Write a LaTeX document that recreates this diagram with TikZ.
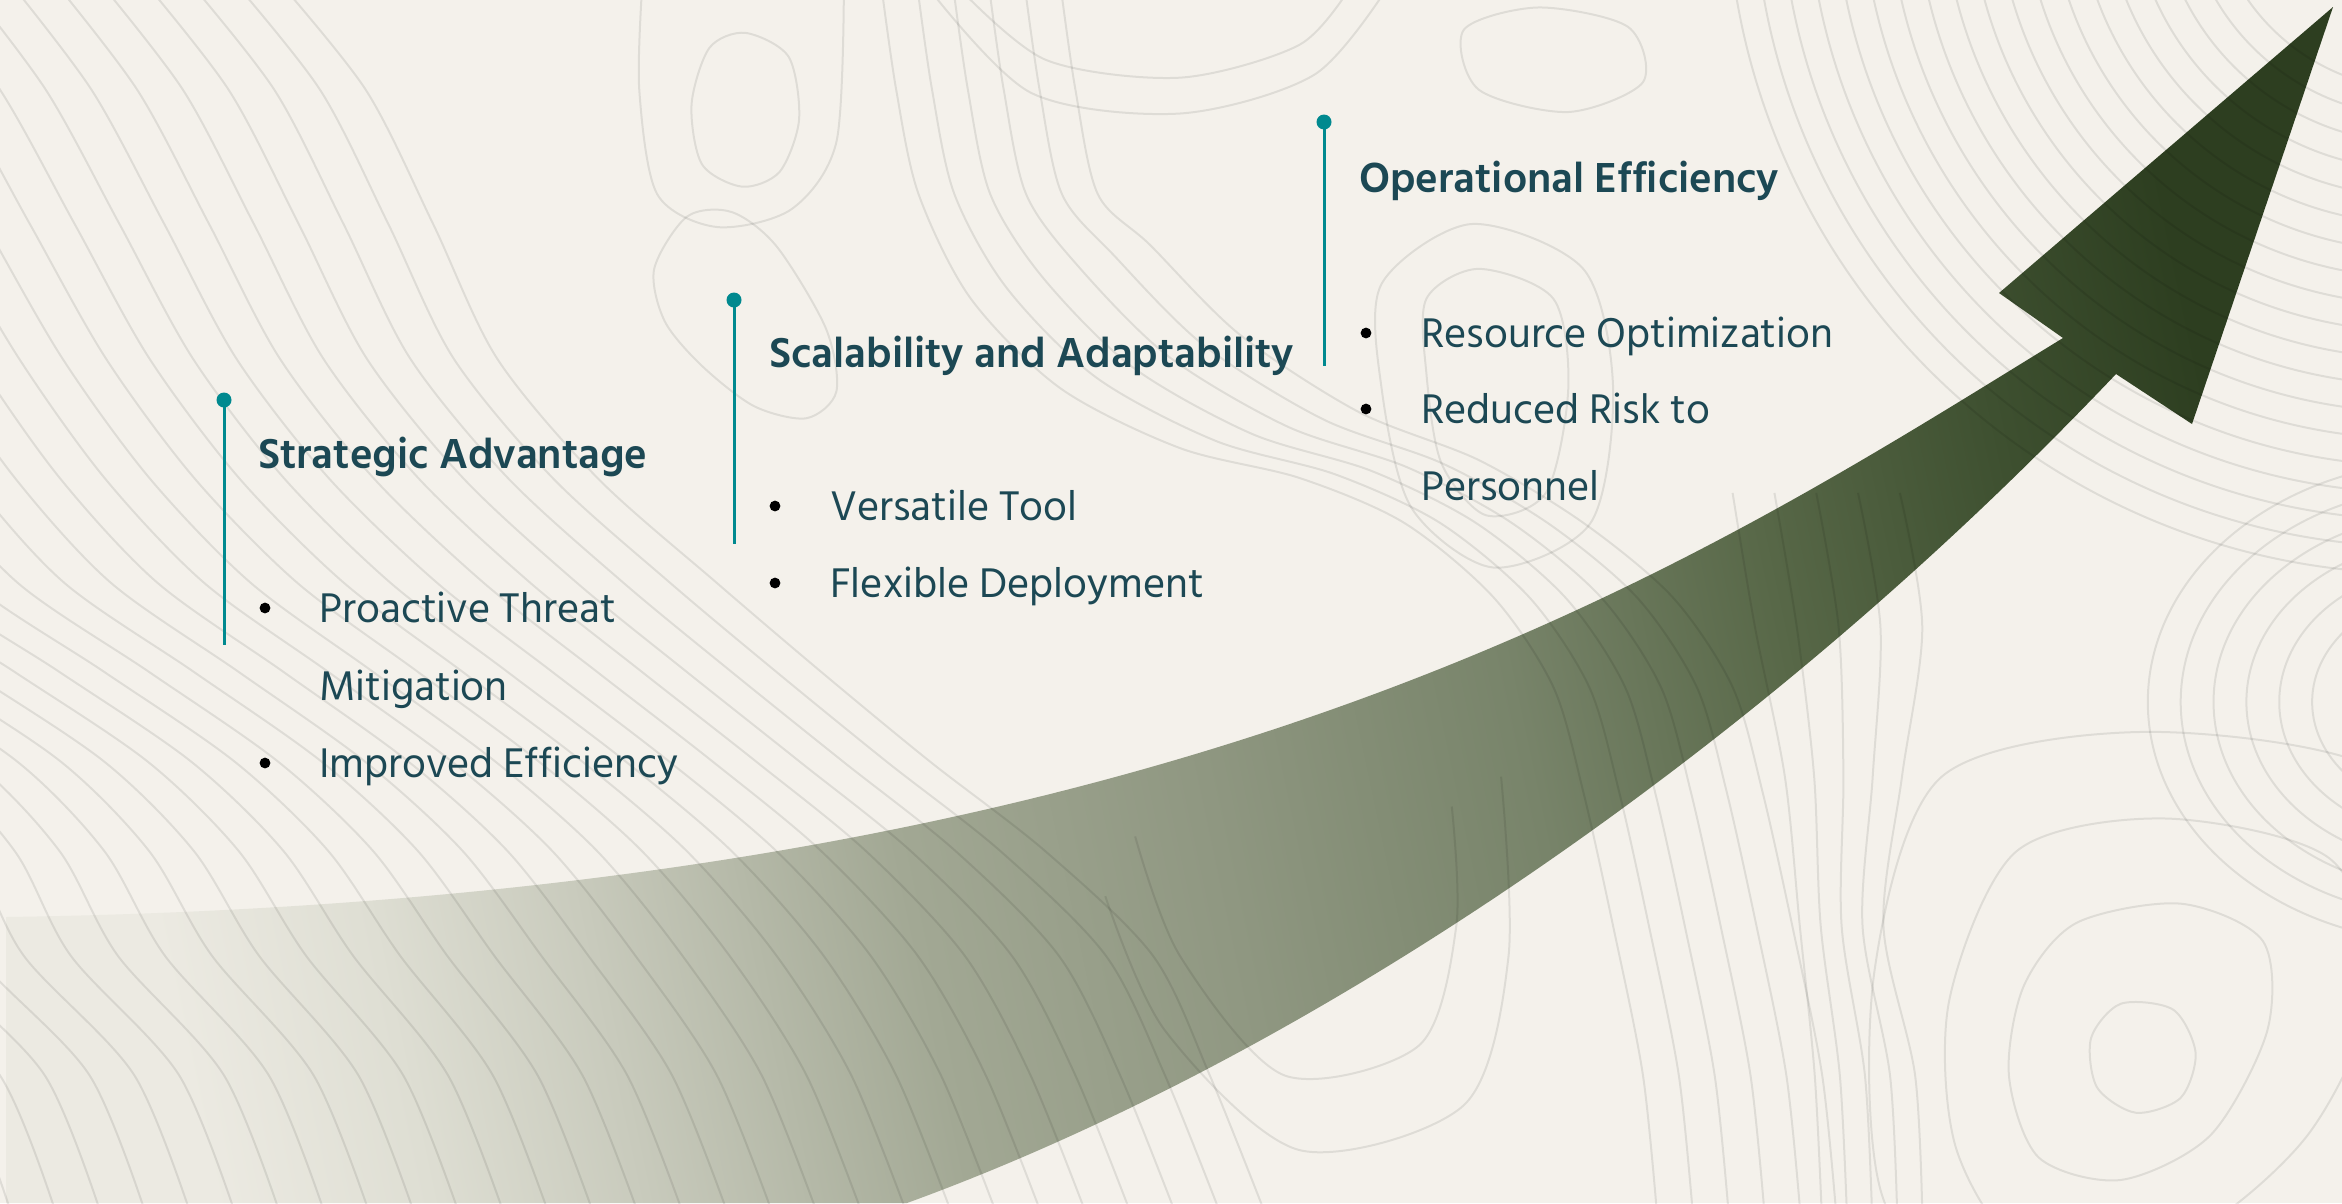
\documentclass[tikz,border=0pt]{standalone}
\usepackage{fontspec}
\setmainfont{Hind Siliguri}
\definecolor{paper}{HTML}{F4F1EB}
\definecolor{ink}{HTML}{1C4854}
\definecolor{tealacc}{HTML}{00898F}
\definecolor{g0}{RGB}{236,234,226}
\definecolor{g1}{RGB}{222,222,211}
\definecolor{g2}{RGB}{200,202,188}
\definecolor{g3}{RGB}{162,168,148}
\definecolor{g4}{RGB}{143,151,129}
\definecolor{g5}{RGB}{120,132,106}
\definecolor{g6}{RGB}{88,104,72}
\definecolor{g7}{RGB}{62,80,48}
\definecolor{g8}{RGB}{45,62,32}
\pgfdeclarehorizontalshading{arrowshade}{100bp}{color(0bp)=(g0); color(25bp)=(g0); color(30bp)=(g1); color(35bp)=(g2); color(42.5bp)=(g3); color(50bp)=(g4); color(57.5bp)=(g5); color(64bp)=(g6); color(70bp)=(g7); color(75bp)=(g8); color(100bp)=(g8)}
\begin{document}
\begin{tikzpicture}[x=1pt,y=-1pt,
  contour/.style={draw=black, draw opacity=0.085, line width=2pt},
  head/.style={anchor=base west, inner sep=0pt, text=ink, font=\fontsize{43}{50}\selectfont\bfseries},
  item/.style={anchor=base west, inner sep=0pt, text=ink, font=\fontsize{42.5}{50}\selectfont},
  pin/.style={circle, fill=tealacc, inner sep=0pt, minimum size=15pt},
  stem/.style={draw=tealacc, line width=3pt},
  dotb/.style={fill=black}]
% paper
\fill[paper] (0,0) rectangle (2342,1203);
\useasboundingbox (0,0) rectangle (2342,1203);

% rising arrow
\coordinate (tail top) at (6,917);
\coordinate (tail bottom) at (6,1203);
\coordinate (shaft bottom) at (907,1203);
\coordinate (barb left in) at (2063,338);
\coordinate (barb left out) at (1999,293);
\coordinate (tip) at (2333,7);
\coordinate (barb right out) at (2192,424);
\coordinate (barb right in) at (2116,374);
\shade[shading=arrowshade, shading angle=12]
  (tail bottom) -- (tail top)
  .. controls (1200,900) and (1700,560) .. (barb left in)
  -- (barb left out) -- (tip) -- (barb right out) -- (barb right in)
  .. controls (1750,760) and (1300,1060) .. (shaft bottom)
  -- cycle;

% topographic contour lines
\begin{scope}
\clip (0,0) rectangle (2342,1203);
\begin{scope}[scale=1.4936]
  % diagonal family on the left
  \foreach \s in {-600,-570,...,240}{
    \draw[contour] plot[smooth] coordinates {({-60+\s},-20) ({0+\s+0.02*\s},60) ({50+\s},150) ({100+\s-0.03*\s},240) ({160+\s},320) ({230+\s+0.04*\s},390) ({310+\s},450) ({390+\s-0.03*\s},510) ({460+\s},570) ({520+\s+0.05*\s},640) ({570+\s},720) ({610+\s},820)};
  }
  % flowing family through the centre
  \foreach \s in {0,24,...,120}{
    \draw[contour] plot[smooth] coordinates {({590+\s},-10) ({600+\s},60) ({615+\s},130) ({650+\s},{200-0.3*\s}) ({710+\s},{260-0.3*\s}) ({790+\s},{300-0.2*\s}) ({870+\s},{320-0.1*\s}) ({940+\s},350) ({1000+\s},400) ({1040+\s},460) ({1060+\s},530) ({1080+\s},620) ({1100+\s},720) ({1110+\s},820)};
  }
  % loops near the top centre
  \draw[contour] plot[smooth cycle] coordinates {(499,22) (528,38) (535,80) (522,115) (497,125) (470,110) (463,70) (475,32)};
  \draw[contour] plot[smooth cycle] coordinates {(438,180) (460,145) (490,142) (520,165) (553,220) (560,262) (540,280) (505,272) (470,245) (445,215)};
  \draw[contour] plot[smooth] coordinates {(430,-10) (428,60) (440,130) (480,152) (530,140) (560,95) (565,-10)};
  \draw[contour] plot[smooth] coordinates {(640,-10) (700,40) (790,52) (870,30) (905,-10)};
  \draw[contour] plot[smooth] coordinates {(620,-10) (690,62) (790,76) (880,50) (930,-10)};
  \draw[contour] plot[smooth cycle] coordinates {(980,20) (1030,5) (1090,18) (1100,55) (1050,75) (990,60)};
  \draw[contour] plot[smooth cycle] coordinates {(955,200) (990,180) (1040,200) (1050,260) (1035,330) (995,345) (965,310) (955,250)};
  \draw[contour] plot[smooth cycle] coordinates {(925,190) (985,150) (1060,180) (1080,260) (1065,350) (1000,380) (945,340) (925,260)};
  % arcs in the upper right
  \foreach \r in {140,158,...,480}{
    \draw[contour] (1620,-80) circle [radius=\r];
  }
  % loops right of the arrow tip
  \foreach \r in {70,92,...,210}{
    \draw[contour] (1640,470) ellipse [x radius=\r, y radius={0.8*\r}];
  }
  % nested loops in the lower right
  \draw[contour] plot[smooth cycle] coordinates {(1420,672) (1455,676) (1470,705) (1460,735) (1430,745) (1404,728) (1400,695)};
  \draw[contour] plot[smooth cycle] coordinates {(1390,618) (1460,605) (1515,630) (1518,690) (1480,760) (1420,790) (1365,775) (1345,720) (1355,660)};
  \draw[contour] plot[smooth cycle] coordinates {(1350,570) (1450,548) (1560,575) (1590,660) (1545,760) (1460,830) (1360,840) (1310,770) (1305,670)};
  \draw[contour] plot[smooth cycle] coordinates {(1300,520) (1440,490) (1600,520) (1640,640) (1590,790) (1470,880) (1330,885) (1260,800) (1255,650)};
  % near-vertical lines between the arrow and the loops
  \foreach \s in {0,28,...,112}{
    \draw[contour] plot[smooth] coordinates {({1160+\s},330) ({1175+\s},420) ({1195+0.7*\s},520) ({1205+0.5*\s},620) ({1215+0.6*\s},720) ({1220+0.6*\s},820)};
  }
  % loops under the right part of the arrow
  \draw[contour] plot[smooth] coordinates {(760,560) (790,640) (860,720) (950,700) (975,620) (972,540)};
  \draw[contour] plot[smooth] coordinates {(740,600) (780,690) (870,770) (980,740) (1010,640) (1005,520)};
\end{scope}
\end{scope}

% milestone pins
\node[pin] (p1) at (224,400) {};
\coordinate (e1) at (224,645);
\draw[stem] (p1.center) -- (e1);
\node[pin] (p2) at (734,300) {};
\coordinate (e2) at (734,544);
\draw[stem] (p2.center) -- (e2);
\node[pin] (p3) at (1324,122) {};
\coordinate (e3) at (1324,366);
\draw[stem] (p3.center) -- (e3);

% bullets
\fill[dotb] (265,608) circle[radius=5.4];
\fill[dotb] (265,763) circle[radius=5.4];
\fill[dotb] (775,506) circle[radius=5.4];
\fill[dotb] (775,583) circle[radius=5.4];
\fill[dotb] (1366,333) circle[radius=5.4];
\fill[dotb] (1366,409) circle[radius=5.4];

% texts
\node[head] (h1) at (258,468) {Strategic Advantage};
\node[item] (t11) at (319,622) {Proactive Threat};
\node[item] (t12) at (319,700) {Mitigation};
\node[item] (t13) at (319,777) {Improved Efficiency};

\node[head] (h2) at (769,367) {Scalability and Adaptability};
\node[item] (t21) at (830,520) {Versatile Tool};
\node[item] (t22) at (830,597) {Flexible Deployment};

\node[head] (h3) at (1359,192) {Operational Efficiency};
\node[item] (t31) at (1421,347) {Resource Optimization};
\node[item] (t32) at (1421,423) {Reduced Risk to};
\node[item] (t33) at (1421,500) {Personnel};
\end{tikzpicture}
\end{document}
